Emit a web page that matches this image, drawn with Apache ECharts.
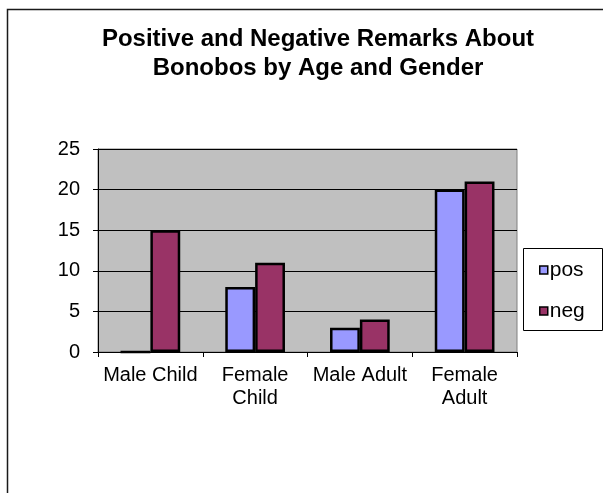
<!DOCTYPE html>
<html>
<head>
<meta charset="utf-8">
<style>
  html, body { margin: 0; padding: 0; background: #fff; }
  #chart { width: 603px; height: 493px; }
</style>
<script src="https://cdn.jsdelivr.net/npm/echarts@6/dist/echarts.min.js"></script>
</head>
<body>
<div id="chart"></div>
<script>
// Remark counts per group
const categories = ['Male Child', 'Female\nChild', 'Male Adult', 'Female\nAdult'];
const posValues = [0, 8, 3, 20];
const negValues = [15, 11, 4, 21];
const seriesNames = ['pos', 'neg'];
const yTicks = { min: 0, max: 25, interval: 5 };

const FONT = '"Liberation Sans", Arial, sans-serif';

const chart = echarts.init(document.getElementById('chart'), null, { renderer: 'canvas' });

chart.setOption({
  animation: false,
  backgroundColor: '#ffffff',
  title: {
    text: 'Positive and Negative Remarks About\nBonobos by Age and Gender',
    left: 318,
    top: 25,
    padding: 0,
    textAlign: 'center',
    textStyle: {
      fontFamily: FONT,
      fontSize: 24,
      fontWeight: 'bold',
      lineHeight: 29,
      color: '#000'
    }
  },
  grid: {
    left: 98,
    top: 149,
    right: 86,
    bottom: 141,
    show: true,
    backgroundColor: '#C0C0C0',
    borderColor: '#808080',
    borderWidth: 1,
    containLabel: false
  },
  legend: {
    orient: 'vertical',
    left: 539,
    top: 259,
    padding: 0,
    itemWidth: 8,
    itemHeight: 8,
    itemGap: 19,
    icon: 'rect',
    data: seriesNames,
    itemStyle: { borderColor: '#000', borderWidth: 1.5 },
    textStyle: { fontFamily: FONT, fontSize: 21, color: '#000', padding: [0, 0, 0, -3], lineHeight: 22 }
  },
  xAxis: {
    type: 'category',
    data: categories,
    boundaryGap: true,
    axisLine: { show: true, lineStyle: { color: '#000', width: 1 } },
    axisTick: { show: true, length: 5, lineStyle: { color: '#000' } },
    axisLabel: {
      fontFamily: FONT,
      fontSize: 20,
      lineHeight: 23,
      color: '#000',
      margin: 12,
      interval: 0
    },
    splitLine: { show: false }
  },
  yAxis: {
    type: 'value',
    min: yTicks.min,
    max: yTicks.max,
    interval: yTicks.interval,
    axisLine: { show: true, lineStyle: { color: '#000', width: 1 } },
    axisTick: { show: true, length: 5, inside: false, lineStyle: { color: '#000' } },
    axisLabel: {
      fontFamily: FONT,
      fontSize: 20,
      color: '#000',
      margin: 18
    },
    splitLine: { show: true, lineStyle: { color: '#000', width: 1 } }
  },
  series: [
    {
      name: seriesNames[0],
      type: 'bar',
      data: posValues,
      barGap: '0%',
      barCategoryGap: '43%',
      itemStyle: { color: '#9999FF', borderColor: '#000', borderWidth: 2.5 }
    },
    {
      name: seriesNames[1],
      type: 'bar',
      data: negValues,
      barGap: '0%',
      barCategoryGap: '43%',
      itemStyle: { color: '#993366', borderColor: '#000', borderWidth: 2.5 }
    }
  ],
  graphic: [
    {
      // outer chart frame, running off the right and bottom edges
      type: 'rect',
      silent: true,
      shape: { x: 7.5, y: 9.5, width: 700, height: 600 },
      style: { fill: 'none', stroke: '#1a1a1a', lineWidth: 1.5 },
      z: 100
    },
    {
      // legend frame
      type: 'rect',
      silent: true,
      shape: { x: 523.5, y: 248.5, width: 79, height: 82 },
      style: { fill: '#fff', stroke: '#000', lineWidth: 1 },
      z: -1
    }
  ]
});
</script>
</body>
</html>
